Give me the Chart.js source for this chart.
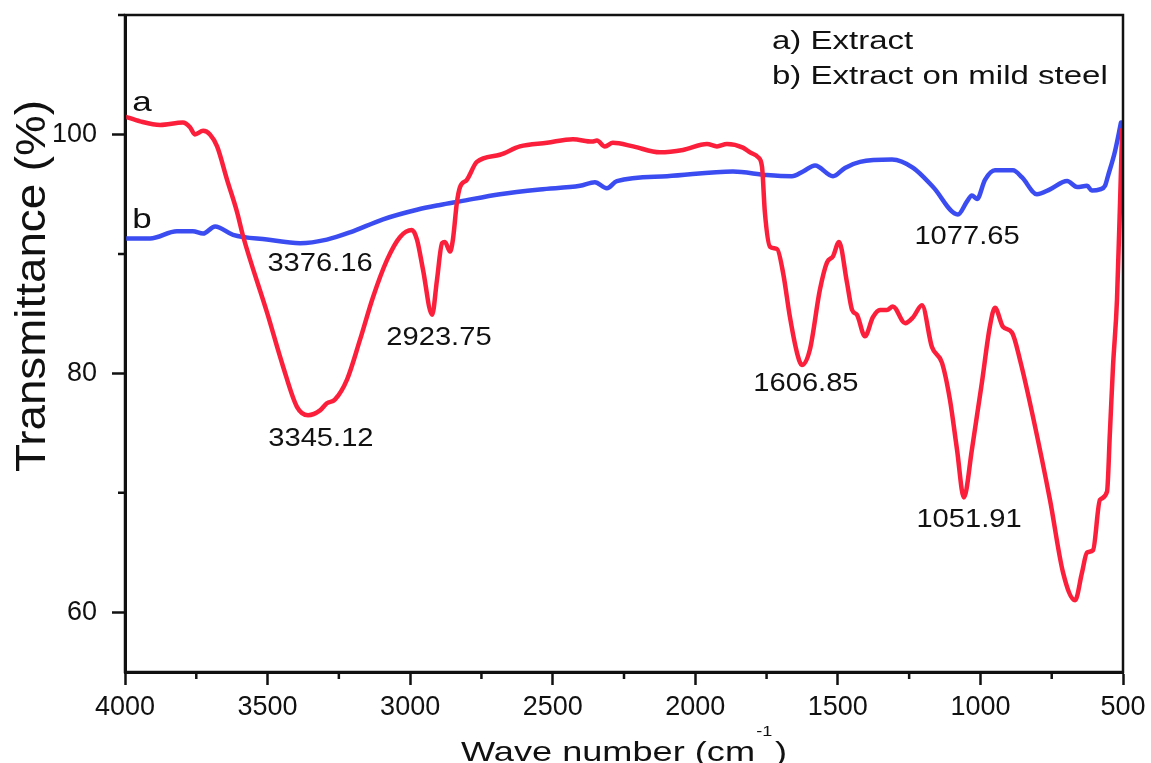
<!DOCTYPE html>
<html>
<head>
<meta charset="utf-8">
<script src="https://cdn.jsdelivr.net/npm/chart.js@4.4.1/dist/chart.umd.min.js"></script>
<style>
html,body{margin:0;padding:0;background:#fff;}
canvas{display:block;}
</style>
</head>
<body>
<canvas id="c" width="1151" height="763"></canvas>
<script>
// ---- data (wave number in cm-1, transmittance in %) ----
const waveA = [4000,3947,3877,3797,3772,3755,3726,3702,3677,3642,3607,3586,3502,3446,3397,3358,3316,3292,3264,3221,3176,3130,3081,3036,2994,2976,2955,2923,2906,2888,2878,2860,2850,2836,2825,2801,2766,2685,2615,2520,2429,2362,2345,2317,2289,2218,2124,2043,1959,1924,1889,1833,1808,1780,1766,1756,1738,1713,1692,1668,1643,1626,1598,1563,1538,1517,1496,1468,1450,1433,1405,1377,1352,1328,1307,1264,1236,1205,1170,1135,1107,1082,1058,1030,995,967,949,921,889,861,816,756,710,668,644,626,605,581,556,546,535,521,510,503];
const transA = [101.5,101.1,100.8,101.0,100.6,100.0,100.3,100.0,99.0,96.2,93.5,91.5,85.1,80.6,77.2,76.5,76.9,77.5,77.8,79.5,82.8,86.4,89.5,91.4,92.0,91.2,88.7,84.9,87.8,90.9,91.0,90.2,91.2,94.3,95.6,96.2,97.7,98.3,99.0,99.3,99.6,99.4,99.5,99.0,99.3,99.0,98.5,98.7,99.2,99.0,99.2,98.9,98.5,98.1,97.3,93.5,90.6,90.4,88.4,84.7,81.7,80.7,82.0,87.0,89.3,89.8,91.0,87.6,85.3,84.9,83.1,84.7,85.3,85.3,85.6,84.2,84.7,85.7,82.2,80.9,77.8,73.6,69.6,73.6,79.2,83.9,85.5,83.9,83.4,81.1,76.4,69.4,63.3,61.0,63.3,65.0,65.2,69.4,70.1,75.0,80.6,86.2,94.6,100.4];
const waveB = [4000,3912,3818,3762,3726,3684,3621,3502,3386,3292,3211,3095,2976,2895,2825,2685,2545,2404,2352,2310,2275,2099,1868,1749,1661,1622,1580,1517,1475,1422,1310,1236,1166,1079,1047,1030,1012,984,949,886,854,802,756,696,661,626,609,581,563,553,528,507];
const transB = [91.3,91.3,91.9,91.9,91.7,92.3,91.6,91.2,90.9,91.2,91.8,92.9,93.7,94.1,94.4,95.0,95.4,95.7,96.0,95.5,96.1,96.5,96.9,96.6,96.5,96.9,97.4,96.5,97.2,97.7,97.9,97.2,95.6,93.3,94.4,94.9,94.6,96.2,97.0,97.0,96.4,95.0,95.4,96.1,95.6,95.7,95.3,95.4,95.7,96.5,98.6,101.0];
const xTicks = [4000,3500,3000,2500,2000,1500,1000,500];
const xMinorTicks = [3750,3250,2750,2250,1750,1250,750];
const yTicks = [60,80,100];
const yMinorTicks = [70,90,110];
const seriesNames = ['a) Extract','b) Extract on mild steel'];
const curveTags = ['a','b'];
const peakTexts = ['3376.16','3345.12','2923.75','1606.85','1077.65','1051.91'];

// annotation anchors (in data units)
const peakAnchors = [[3316,89.35],[3313,74.7],[2899,83.15],[1612,79.3],[1047,91.6],[1040,67.9]];
const tagAnchors = [[3975,101.93],[3975,92.2]];
const legendAnchors = [[1731,107.12],[1731,104.19]];

const FONT = '"Liberation Sans", Arial, Helvetica, sans-serif';
const INK = '#111';

function toXY(w, t){ return w.map((v,i)=>({x:v, y:t[i]})); }

function sText(ctx, txt, x, y, size, sx, align){
  ctx.save();
  ctx.font = size + 'px ' + FONT;
  ctx.fillStyle = INK;
  ctx.textBaseline = 'alphabetic';
  ctx.textAlign = align;
  ctx.translate(x, y);
  ctx.scale(sx, 1);
  ctx.fillText(txt, 0, 0);
  ctx.restore();
}

const decor = {
  id: 'decor',
  afterDraw(chart){
    const ctx = chart.ctx, a = chart.chartArea;
    const xs = chart.scales.x, ys = chart.scales.y;
    ctx.save();
    ctx.strokeStyle = INK;
    ctx.lineWidth = 2.5;
    ctx.strokeRect(a.left, a.top, a.right - a.left, a.bottom - a.top);
    ctx.beginPath();
    xMinorTicks.forEach(v=>{ const p = xs.getPixelForValue(v); ctx.moveTo(p, a.bottom); ctx.lineTo(p, a.bottom + 7); });
    yMinorTicks.forEach(v=>{ const p = ys.getPixelForValue(v); ctx.moveTo(a.left - 7, p); ctx.lineTo(a.left, p); });
    ctx.stroke();
    ctx.restore();

    // peak labels
    peakTexts.forEach((t,i)=>{
      const px = xs.getPixelForValue(peakAnchors[i][0]);
      const py = ys.getPixelForValue(peakAnchors[i][1]);
      sText(ctx, t, px, py + 9.5, 26, 1.12, 'center');
    });
    // curve tags
    curveTags.forEach((t,i)=>{
      sText(ctx, t, xs.getPixelForValue(tagAnchors[i][0]), ys.getPixelForValue(tagAnchors[i][1]), 28, 1.25, 'left');
    });
    // legend text
    seriesNames.forEach((t,i)=>{
      sText(ctx, t, xs.getPixelForValue(legendAnchors[i][0]), ys.getPixelForValue(legendAnchors[i][1]), 26, 1.27, 'left');
    });

    // x axis title with superscript
    ctx.save();
    const p1 = 'Wave number (cm', sup = '-1', p3 = ')';
    ctx.font = '28px ' + FONT; const w1 = ctx.measureText(p1).width, w3 = ctx.measureText(p3).width;
    ctx.font = '14px ' + FONT; const w2 = ctx.measureText(sup).width + 3;
    ctx.restore();
    const sxT = 326 / (w1 + w2 + w3);
    const cx = (a.left + a.right) / 2;
    const x0 = cx - 163, base = 761;
    sText(ctx, p1, x0, base, 28, sxT, 'left');
    sText(ctx, sup, x0 + (w1 + 1) * sxT, base - 25, 14, sxT, 'left');
    sText(ctx, p3, x0 + (w1 + w2) * sxT, base, 28, sxT, 'left');

    // y axis title
    ctx.save();
    ctx.font = '42px ' + FONT;
    const yt = 'Transmittance (%)';
    const wy = ctx.measureText(yt).width;
    ctx.translate(45, 286);
    ctx.rotate(-Math.PI / 2);
    ctx.scale(372 / wy, 1);
    ctx.fillStyle = INK;
    ctx.textAlign = 'center';
    ctx.textBaseline = 'alphabetic';
    ctx.fillText(yt, 0, 0);
    ctx.restore();
  }
};

new Chart(document.getElementById('c'), {
  type: 'scatter',
  data: {
    datasets: [
      { label: seriesNames[0], data: toXY(waveA, transA), showLine: true, borderColor: '#fc1f3b', backgroundColor: '#fc1f3b', borderWidth: 4.5, pointRadius: 0, cubicInterpolationMode: 'monotone', borderJoinStyle: 'round', borderCapStyle: 'round' },
      { label: seriesNames[1], data: toXY(waveB, transB), showLine: true, borderColor: '#3b4cf0', backgroundColor: '#3b4cf0', borderWidth: 4.5, pointRadius: 0, cubicInterpolationMode: 'monotone', borderJoinStyle: 'round', borderCapStyle: 'round' }
    ]
  },
  options: {
    responsive: false,
    animation: false,
    events: [],
    layout: { padding: { top: 15, right: 28, left: 0, bottom: 0 } },
    plugins: { legend: { display: false }, tooltip: { enabled: false }, title: { display: false } },
    scales: {
      x: {
        type: 'linear', reverse: true, min: 500, max: 4000,
        afterBuildTicks: s => { s.ticks = xTicks.map(v => ({ value: v })); },
        afterFit: s => { s.height = 91; s.paddingLeft = 0; s.paddingRight = 0; },
        ticks: { font: { family: FONT, size: 27 }, color: INK, padding: 6, autoSkip: false, maxRotation: 0, callback: v => String(v) },
        grid: { drawOnChartArea: false, drawTicks: true, tickLength: 13, tickWidth: 2.5, tickColor: INK },
        border: { display: true, color: INK, width: 3 }
      },
      y: {
        type: 'linear', min: 55, max: 110,
        afterBuildTicks: s => { s.ticks = yTicks.map(v => ({ value: v })); },
        afterFit: s => { s.width = 125; s.paddingTop = 0; s.paddingBottom = 0; },
        ticks: { font: { family: FONT, size: 27 }, color: INK, padding: 15, callback: v => String(v) },
        grid: { drawOnChartArea: false, drawTicks: true, tickLength: 13, tickWidth: 2.5, tickColor: INK },
        border: { display: true, color: INK, width: 3 }
      }
    }
  },
  plugins: [decor]
});
</script>
</body>
</html>
